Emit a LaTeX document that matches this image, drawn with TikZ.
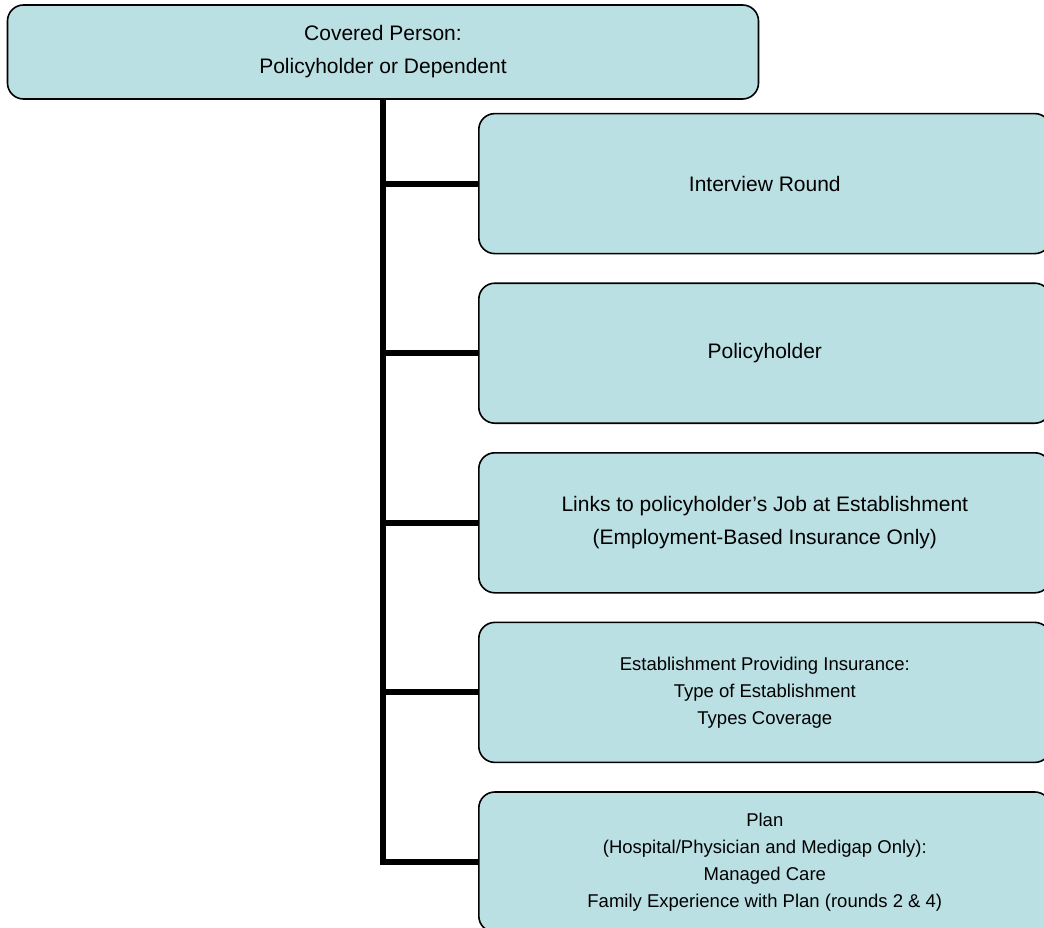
\documentclass[tikz,border=0pt]{standalone}
\usepackage{fontspec}
\setmainfont{Liberation Sans}
\usetikzlibrary{positioning}
\definecolor{boxblue}{RGB}{187,224,227}

\begin{document}
\begin{tikzpicture}[%
      every node/.style={draw=black, line width=1.6pt, fill=boxblue, rounded corners=16pt, align=center, inner sep=0pt},
      big/.style={font=\fontsize{21}{33}\selectfont},
      small/.style={font=\fontsize{18.5}{27}\selectfont},
      leaf/.style={minimum width=572pt, minimum height=140pt},
      link/.style={line width=6pt},
      node distance=28pt
    ]
    \useasboundingbox (0,0) rectangle (1044pt,-928pt);

    \node [] (top) [big, minimum width=751pt, minimum height=94pt] at (383pt,-52pt) {Covered Person:\\Policyholder or Dependent};
    \node [] (round) [big, leaf, below right=13pt and 95pt of top.south] {Interview Round};
    \node [] (holder) [big, leaf, below=of round] {Policyholder};
    \node [] (job) [big, leaf, below=of holder] {Links to policyholder’s Job at Establishment\\(Employment-Based Insurance Only)};
    \node [] (estab) [small, leaf, below=of job] {Establishment Providing Insurance:\\Type of Establishment\\Types Coverage};
    \node [] (plan) [small, leaf, below=of estab] {Plan\\(Hospital/Physician and Medigap Only):\\Managed Care\\Family Experience with Plan (rounds 2 \& 4)};

    % junctions on the spine
    \coordinate (j1) at (top.south |- round.west);
    \coordinate (j2) at (top.south |- holder.west);
    \coordinate (j3) at (top.south |- job.west);
    \coordinate (j4) at (top.south |- estab.west);

    \draw[link] (top.south) |- (plan.west);
    \draw[link] (j1) -- (round.west);
    \draw[link] (j2) -- (holder.west);
    \draw[link] (j3) -- (job.west);
    \draw[link] (j4) -- (estab.west);
\end{tikzpicture}
\end{document}
